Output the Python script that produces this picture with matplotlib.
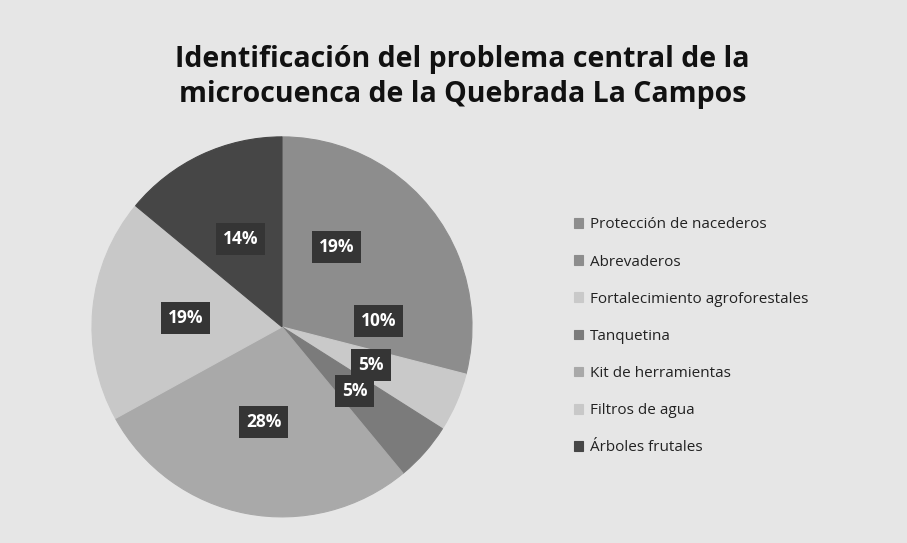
import matplotlib
matplotlib.use("Agg")
import matplotlib.pyplot as plt

# ── data ─────────────────────────────────────────────────────────────────────
TITLE = "Identificación del problema central de la\nmicrocuenca de la Quebrada La Campos"

categories = [
    "Protección de nacederos",
    "Abrevaderos",
    "Fortalecimiento agroforestales",
    "Tanquetina",
    "Kit de herramientas",
    "Filtros de agua",
    "Árboles frutales",
]
shares = [19, 10, 5, 5, 28, 19, 14]

# scanned greyscale tones, one per slice
COLORS = ["#8d8d8d", "#8d8d8d", "#c9c9c9", "#7b7b7b", "#a9a9a9", "#c8c8c8", "#464646"]
BG = "#e6e6e6"

plt.rcParams["font.family"] = ["Open Sans", "DejaVu Sans"]

fig = plt.figure(figsize=(9.07, 5.43), dpi=100, facecolor=BG)

# pie axes: centre ~ (282, 327) px, radius ~190 px
ax = fig.add_axes([0.1014, 0.048, 0.419, 0.700])
ax.set_facecolor(BG)

wedges, texts, autotexts = ax.pie(
    shares,
    colors=COLORS,
    startangle=90,
    counterclock=False,
    autopct="%d%%",
    pctdistance=0.51,
    textprops=dict(color="white", fontsize=12.5, fontweight="bold"),
)
# paint edges in the slice colour so adjacent same-tone slices show no seam
for w, c in zip(wedges, COLORS):
    w.set_edgecolor(c)
    w.set_linewidth(0.8)
for t in autotexts:
    t.set_bbox(dict(boxstyle="square,pad=0.4", facecolor="#353535", edgecolor="none"))
ax.set_aspect("equal")
ax.set_xlim(-1.0, 1.0)
ax.set_ylim(-1.0, 1.0)

fig.text(0.51, 0.858, TITLE, ha="center", va="center", fontsize=20.5,
         fontweight="bold", color="#111111", linespacing=1.3)

fig.legend(
    wedges, categories,
    loc="upper left", bbox_to_anchor=(0.618, 0.625),
    frameon=False, fontsize=11, labelcolor="#222222",
    handlelength=0.6, handleheight=0.6, handletextpad=0.45,
    labelspacing=1.45,
)

fig.savefig("out.png", dpi=100, facecolor=BG)
